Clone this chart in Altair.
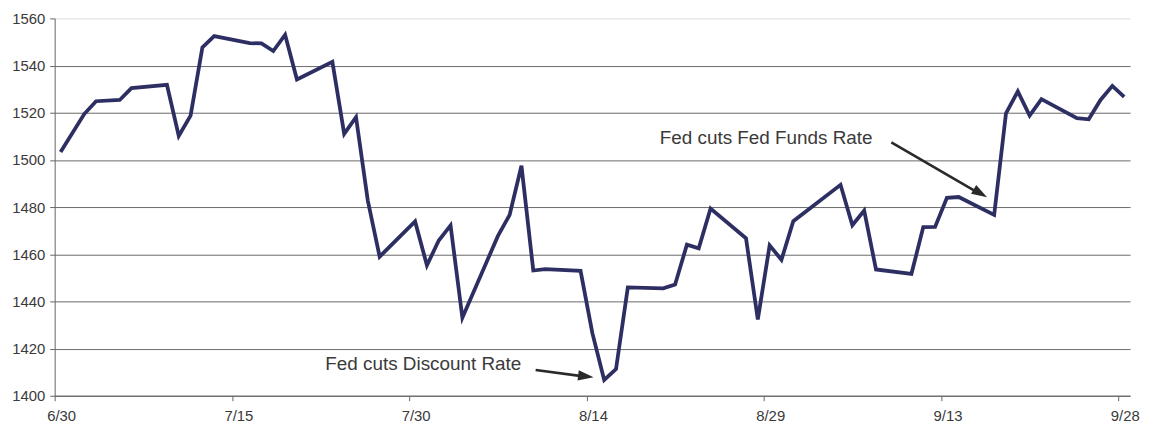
import altair as alt
import pandas as pd

dates = ["2007-06-30", "2007-07-02", "2007-07-03", "2007-07-05", "2007-07-06", "2007-07-09",
         "2007-07-10", "2007-07-11", "2007-07-12", "2007-07-13", "2007-07-16", "2007-07-17",
         "2007-07-18", "2007-07-19", "2007-07-20", "2007-07-23", "2007-07-24", "2007-07-25",
         "2007-07-26", "2007-07-27", "2007-07-30", "2007-07-31", "2007-08-01", "2007-08-02",
         "2007-08-03", "2007-08-06", "2007-08-07", "2007-08-08", "2007-08-09", "2007-08-10",
         "2007-08-13", "2007-08-14", "2007-08-15", "2007-08-16", "2007-08-17", "2007-08-20",
         "2007-08-21", "2007-08-22", "2007-08-23", "2007-08-24", "2007-08-27", "2007-08-28",
         "2007-08-29", "2007-08-30", "2007-08-31", "2007-09-04", "2007-09-05", "2007-09-06",
         "2007-09-07", "2007-09-10", "2007-09-11", "2007-09-12", "2007-09-13", "2007-09-14",
         "2007-09-17", "2007-09-18", "2007-09-19", "2007-09-20", "2007-09-21", "2007-09-24",
         "2007-09-25", "2007-09-26", "2007-09-27", "2007-09-28"]
values = [1503.35, 1519.43, 1524.87, 1525.40, 1530.44, 1531.85,
          1510.12, 1518.76, 1547.70, 1552.50, 1549.52, 1549.37,
          1546.17, 1553.08, 1534.10, 1541.57, 1511.04, 1518.09,
          1482.66, 1458.95, 1473.91, 1455.27, 1465.81, 1472.20,
          1433.06, 1467.67, 1476.71, 1497.49, 1453.09, 1453.64,
          1452.92, 1426.54, 1406.70, 1411.27, 1445.94, 1445.55,
          1447.12, 1464.07, 1462.50, 1479.37, 1466.79, 1432.36,
          1463.76, 1457.64, 1473.99, 1489.42, 1472.29, 1478.55,
          1453.55, 1451.70, 1471.49, 1471.56, 1483.95, 1484.25,
          1476.65, 1519.78, 1529.03, 1518.75, 1525.75, 1517.73,
          1517.21, 1525.42, 1531.38, 1526.75]

x_labels = ["6/30", "7/15", "7/30", "8/14", "8/29", "9/13", "9/28"]
y_ticks = [1400, 1420, 1440, 1460, 1480, 1500, 1520, 1540, 1560]

# annotations (in data space: days since 6/30, index value)
note_text = ["Fed cuts Discount Rate", "Fed cuts Fed Funds Rate"]
note_x = [22.9, 51.2]
note_y = [1411.1, 1506.8]
arrow_x0 = [40.7, 70.8]
arrow_y0 = [1410.9, 1507.4]
arrow_x1 = [44.6, 77.9]
arrow_y1 = [1408.3, 1486.8]
tip_x = [45.6, 78.9]
tip_y = [1407.8, 1484.2]
tip_angle = [97, 120]

start = pd.Timestamp(dates[0])
df = pd.DataFrame({
    "day": [(pd.Timestamp(d) - start).days + 0.5 for d in dates],
    "value": values,
})
notes = pd.DataFrame({"text": note_text, "x": note_x, "y": note_y})
arrows = pd.DataFrame({"x0": arrow_x0, "y0": arrow_y0, "x1": arrow_x1, "y1": arrow_y1,
                       "tx": tip_x, "ty": tip_y, "angle": tip_angle})

label_dates = [pd.Timestamp("2007-" + s.replace("/", "-")) for s in x_labels]
tick_vals = [(d - start).days for d in label_dates]
label_expr = "{" + ",".join("'%d':'%s'" % (v, s) for v, s in zip(tick_vals, x_labels)) + "}[''+datum.value]"

FONT = "Liberation Sans"
xscale = alt.Scale(domain=[0, 91], nice=False, zero=False)
yscale = alt.Scale(domain=[1400, 1560], nice=False, zero=False)

line = alt.Chart(df).mark_line(color="#2d2f63", strokeWidth=3.8, strokeJoin="miter").encode(
    x=alt.X("day:Q", scale=xscale, axis=alt.Axis(
        values=tick_vals, labelExpr=label_expr, title=None, grid=False,
        domainColor="#666666", tickColor="#666666", tickSize=5, labelFont=FONT,
        labelFontSize=15, labelColor="#3a3a3a", labelPadding=8, labelOffset=6.5,
        labelFlush=False)),
    y=alt.Y("value:Q", scale=yscale, axis=alt.Axis(
        values=y_ticks, title=None, grid=True, format="d",
        gridColor={"condition": {"test": "datum.value === 1560", "value": "#dddddd"}, "value": "#6a6a6a"},
        gridWidth=1, domainColor="#666666", tickColor="#666666", tickSize=5,
        labelFont=FONT, labelFontSize=15, labelColor="#3a3a3a", labelPadding=5)),
)

text = alt.Chart(notes).mark_text(align="left", baseline="alphabetic", font=FONT,
                                  fontSize=19, color="#3a3a3a").encode(
    x=alt.X("x:Q", scale=xscale), y=alt.Y("y:Q", scale=yscale), text="text:N")

shafts = alt.Chart(arrows).mark_rule(color="#2a2a2a", strokeWidth=2.6).encode(
    x=alt.X("x0:Q", scale=xscale), y=alt.Y("y0:Q", scale=yscale), x2="x1:Q", y2="y1:Q")

heads = alt.Chart(arrows).mark_point(shape="M0,0L0.8,2.4L-0.8,2.4Z", filled=True, opacity=1,
                                     color="#2a2a2a", size=170).encode(
    x=alt.X("tx:Q", scale=xscale), y=alt.Y("ty:Q", scale=yscale), angle=alt.Angle("angle:Q", scale=None))

chart = alt.layer(line, text, shafts, heads).properties(
    width=1083, height=380,
    autosize=alt.AutoSizeParams(type="none"),
    padding={"left": 47, "top": 9, "right": 11, "bottom": 26},
).configure_view(stroke=None).configure_axis(domainWidth=1, tickWidth=1)

chart.save("out.html", embed_options={"renderer": "svg", "actions": False})
